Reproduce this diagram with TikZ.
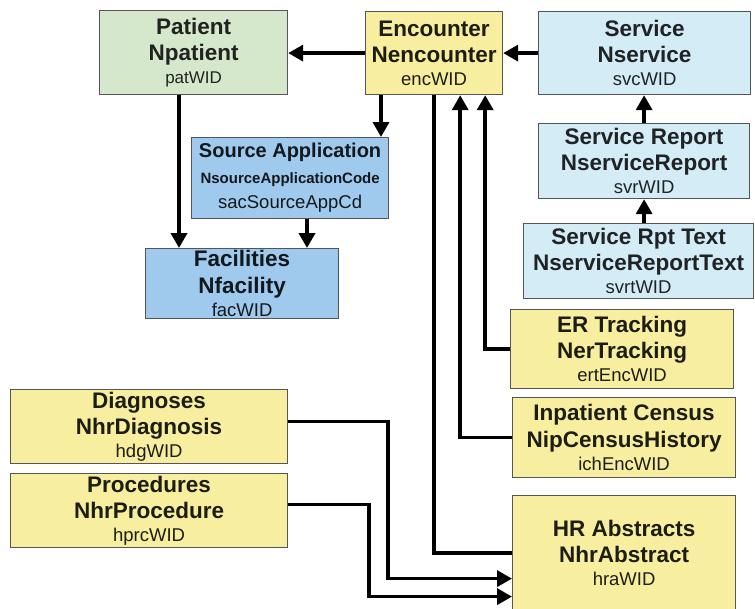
\documentclass[tikz,border=0pt]{standalone}
\usepackage{fontspec}
\setmainfont{Liberation Sans}
\usetikzlibrary{calc,arrows.meta}
\definecolor{patgreen}{HTML}{D5E8CC}
\definecolor{encyellow}{HTML}{F7EF9F}
\definecolor{svcblue}{HTML}{D3ECF5}
\definecolor{facblue}{HTML}{9FCAEE}
\definecolor{boxline}{HTML}{555555}
\def\lw{3.6pt}

% table box: title, table name, key column
\newcommand{\entity}[3]{\textbf{#1}\\\textbf{#2}\\[-3.5pt]{\fontsize{18.5}{22}\selectfont #3}}

\begin{document}
\begin{tikzpicture}[x=1pt,y=-1pt]
    \tikzset{%
      entity/.style={%
        draw=boxline, line width=1.2pt, anchor=north west, align=center,
        inner sep=0pt, font=\fontsize{22.5}{26.5}\selectfont},
      patbox/.style={entity, fill=patgreen, text=patgreen!15!black},
      encbox/.style={entity, fill=encyellow, text=encyellow!12!black},
      svcbox/.style={entity, fill=svcblue, text=svcblue!15!black},
      facbox/.style={entity, fill=facblue, text=facblue!12!black},
      link/.style={line width=\lw, -{Triangle[length=15pt,width=16pt]}},
      bare/.style={line width=\lw}}

    \useasboundingbox (0,0) rectangle (755,608);

    % top row
    \node[patbox, minimum width=188pt, minimum height=84pt] (pat) at (99,10) {\textbf{Patient}\\\textbf{Npatient}\\[-3.5pt]{\fontsize{17}{21}\selectfont patWID}};
    \node[encbox, minimum width=137pt, minimum height=83pt] (enc) at (365,11) {\entity{Encounter}{Nencounter}{encWID}};
    \node[svcbox, minimum width=212pt, minimum height=83pt] (svc) at (538,11) {\entity{Service}{Nservice}{svcWID}};

    % source application and facilities
    \node[facbox, minimum width=197pt, minimum height=81pt] (sac) at (191,137)
      {{\fontsize{20}{24}\selectfont\bfseries Source Application}\\[-1pt]
       {\fontsize{15}{18}\selectfont\bfseries NsourceApplicationCode}\\[-1pt]
       {\fontsize{18.5}{22}\selectfont sacSourceAppCd}};
    \node[facbox, minimum width=193pt, minimum height=70pt] (fac) at (145,248) {\entity{Facilities}{Nfacility}{facWID}};

    % service reports
    \node[svcbox, minimum width=211pt, minimum height=75pt] (svr) at (538,123) {\entity{Service Report}{NserviceReport}{svrWID}};
    \node[svcbox, minimum width=230pt, minimum height=75pt] (svrt) at (523,223) {\entity{Service Rpt Text}{NserviceReportText}{svrtWID}};

    % encounter children
    \node[encbox, minimum width=223pt, minimum height=79pt] (ert) at (510,309) {\entity{ER Tracking}{NerTracking}{ertEncWID}};
    \node[encbox, minimum width=223pt, minimum height=80pt] (ich) at (512,397) {\entity{Inpatient Census}{NipCensusHistory}{ichEncWID}};
    \node[encbox, minimum width=223pt, minimum height=115pt] (hra) at (512,495) {\entity{HR Abstracts}{NhrAbstract}{hraWID}};
    \node[encbox, minimum width=277pt, minimum height=74pt] (hdg) at (10,389) {\entity{Diagnoses}{NhrDiagnosis}{hdgWID}};
    \node[encbox, minimum width=277pt, minimum height=74pt] (hprc) at (10,473) {\entity{Procedures}{NhrProcedure}{hprcWID}};

    % drop points under the boxes
    \coordinate (encsac) at ($(enc.south west)+(16,0)$);
    \coordinate (enchra) at ($(enc.south west)+(69,0)$);
    \coordinate (encich) at ($(enc.south east)+(-43,0)$);
    \coordinate (encert) at ($(enc.south east)+(-18,0)$);
    \coordinate (patfac) at ($(pat.south west)+(80,0)$);
    \coordinate (sacfac) at ($(sac.south west)+(116,0)$);

    \draw[link] (enc.west) -- (enc.west -| pat.east);
    \draw[link] (svc.west) -- (svc.west -| enc.east);
    \draw[link] (encsac) -- (encsac |- sac.north);
    \draw[link] (patfac) -- (patfac |- fac.north);
    \draw[link] (sacfac) -- (sacfac |- fac.north);
    \draw[link] (svr.north) -- (svr.north |- svc.south);
    \draw[link] (svr.south |- svrt.north) -- (svr.south);
    \draw[link] (ert.west) -| (encert);
    \draw[link] (ich.west) -| (encich);
    \draw[bare] (enchra) |- (hra.west);
    \draw[link] ($(hdg.east)+(0,-5)$) -- ++(100,0) |- ($(hra.west)+(0,25.5)$);
    \draw[link] ($(hprc.east)+(0,-6)$) -- ++(81,0) |- ($(hra.west)+(0,43.5)$);
  \end{tikzpicture}
\end{document}
